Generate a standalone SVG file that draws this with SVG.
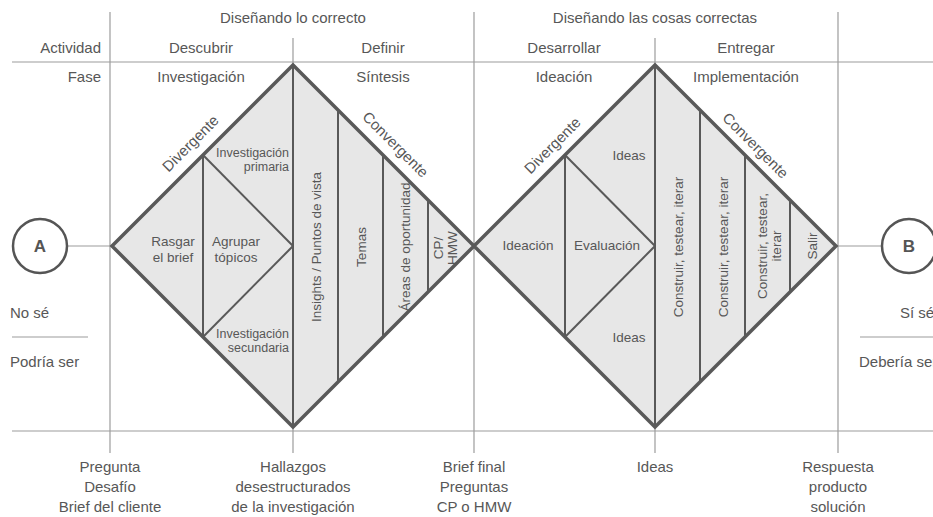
<svg xmlns="http://www.w3.org/2000/svg" width="933" height="517" viewBox="0 0 933 517">
<style>
text{font-family:"Liberation Sans",Arial,sans-serif;fill:#575757}
.h{font-size:15px;text-anchor:middle}
.hr{font-size:15px;text-anchor:end}
.hl{font-size:15px;text-anchor:start}
.l{font-size:13.5px;text-anchor:middle}
.s{font-size:12.5px;text-anchor:end}
.d{font-size:15px;text-anchor:middle}
.grid{stroke:#9c9c9c;stroke-width:1.2;fill:none}
.dia{fill:#e7e7e7;stroke:#595959;stroke-width:3.5;stroke-linejoin:miter}
.in{stroke:#595959;stroke-width:2;fill:none}
.circ{fill:#fff;stroke:#555;stroke-width:2.5}
.letter{font-size:17px;text-anchor:middle;font-weight:bold;fill:#555}
</style>
<rect width="933" height="517" fill="#fff"/>
<g id="grid" class="grid">
<line x1="12" y1="62" x2="933" y2="62"/>
<line x1="12" y1="431" x2="933" y2="431"/>
<line x1="110" y1="12" x2="110" y2="453"/>
<line x1="293" y1="38" x2="293" y2="453"/>
<line x1="474" y1="12" x2="474" y2="453"/>
<line x1="655" y1="38" x2="655" y2="453"/>
<line x1="838" y1="12" x2="838" y2="453"/>
<line x1="12" y1="337" x2="88" y2="337"/>
<line x1="860" y1="337" x2="933" y2="337"/>
</g>
<g id="header">
<text class="h" x="293" y="23">Diseñando lo correcto</text>
<text class="h" x="655" y="23">Diseñando las cosas correctas</text>
<text class="hr" x="101" y="53">Actividad</text>
<text class="h" x="201" y="53">Descubrir</text>
<text class="h" x="383" y="53">Definir</text>
<text class="h" x="564" y="53">Desarrollar</text>
<text class="h" x="746" y="53">Entregar</text>
<text class="hr" x="101" y="82">Fase</text>
<text class="h" x="201" y="82">Investigación</text>
<text class="h" x="383" y="82">Síntesis</text>
<text class="h" x="564" y="82">Ideación</text>
<text class="h" x="746" y="82">Implementación</text>
</g>
<g id="connectors">
<line class="grid" x1="67" y1="246" x2="112" y2="246"/>
<line class="grid" x1="836" y1="246" x2="882" y2="246"/>
</g>
<g id="node-a">
<circle class="circ" cx="40" cy="246" r="27"/>
<text class="letter" x="40" y="252">A</text>
</g>
<g id="node-b">
<circle class="circ" cx="909" cy="246" r="27"/>
<text class="letter" x="909" y="252">B</text>
</g>
<g id="diamond-1">
<polygon class="dia" points="293,65 474,246 293,427 112,246"/>
<line class="in" x1="293" y1="65" x2="293" y2="427"/>
<line class="in" x1="203" y1="155" x2="203" y2="337"/>
<line class="in" x1="203" y1="155" x2="293" y2="246"/>
<line class="in" x1="203" y1="337" x2="293" y2="246"/>
<line class="in" x1="338" y1="110" x2="338" y2="382"/>
<line class="in" x1="383" y1="155" x2="383" y2="337"/>
<line class="in" x1="428" y1="200" x2="428" y2="292"/>
<text class="d" transform="translate(192,145) rotate(-45)" y="3">Divergente</text>
<text class="d" transform="translate(394,146) rotate(45)" y="3">Convergente</text>
<text class="l" x="173" y="246">Rasgar</text>
<text class="l" x="173" y="262">el brief</text>
<text class="l" x="236" y="246">Agrupar</text>
<text class="l" x="236" y="262">tópicos</text>
<text class="s" x="289" y="157">Investigación</text>
<text class="s" x="289" y="171">primaria</text>
<text class="s" x="289" y="338">Investigación</text>
<text class="s" x="289" y="352">secundaria</text>
<text class="l" transform="translate(316,247) rotate(-90)" y="5">Insights / Puntos de vista</text>
<text class="l" transform="translate(361,247) rotate(-90)" y="5">Temas</text>
<text class="l" transform="translate(405,247) rotate(-90)" y="5">Áreas de oportunidad</text>
<text class="l" transform="translate(438,248) rotate(-90)" y="5">CP/</text>
<text class="l" transform="translate(452,248) rotate(-90)" y="5">HMW</text>
</g>
<g id="diamond-2">
<polygon class="dia" points="655,65 836,246 655,427 474,246"/>
<line class="in" x1="655" y1="65" x2="655" y2="427"/>
<line class="in" x1="565" y1="155" x2="565" y2="337"/>
<line class="in" x1="565" y1="155" x2="655" y2="246"/>
<line class="in" x1="565" y1="337" x2="655" y2="246"/>
<line class="in" x1="700" y1="110" x2="700" y2="382"/>
<line class="in" x1="745" y1="155" x2="745" y2="337"/>
<line class="in" x1="790" y1="200" x2="790" y2="292"/>
<text class="d" transform="translate(554,147) rotate(-45)" y="3">Divergente</text>
<text class="d" transform="translate(754,147) rotate(45)" y="3">Convergente</text>
<text class="l" x="528" y="250">Ideación</text>
<text class="l" x="607" y="250">Evaluación</text>
<text class="l" x="629" y="160">Ideas</text>
<text class="l" x="629" y="342">Ideas</text>
<text class="l" transform="translate(678,247) rotate(-90)" y="5">Construir, testear, iterar</text>
<text class="l" transform="translate(723,247) rotate(-90)" y="5">Construir, testear, iterar</text>
<text class="l" transform="translate(762,246) rotate(-90)" y="5">Construir, testear,</text>
<text class="l" transform="translate(776,246) rotate(-90)" y="5">iterar</text>
<text class="l" transform="translate(812,246) rotate(-90)" y="5">Salir</text>
</g>
<g id="side-labels">
<text class="hl" x="10" y="318">No sé</text>
<text class="hl" x="10" y="367">Podría ser</text>
<text class="hl" x="900" y="318">Sí sé</text>
<text class="hl" x="859" y="367">Debería ser</text>
</g>
<g id="bottom-labels">
<text class="h" x="110" y="472">Pregunta</text>
<text class="h" x="110" y="492">Desafío</text>
<text class="h" x="110" y="512">Brief del cliente</text>
<text class="h" x="293" y="472">Hallazgos</text>
<text class="h" x="293" y="492">desestructurados</text>
<text class="h" x="293" y="512">de la investigación</text>
<text class="h" x="474" y="472">Brief final</text>
<text class="h" x="474" y="492">Preguntas</text>
<text class="h" x="474" y="512">CP o HMW</text>
<text class="h" x="655" y="472">Ideas</text>
<text class="h" x="838" y="472">Respuesta</text>
<text class="h" x="838" y="492">producto</text>
<text class="h" x="838" y="512">solución</text>
</g>
</svg>
